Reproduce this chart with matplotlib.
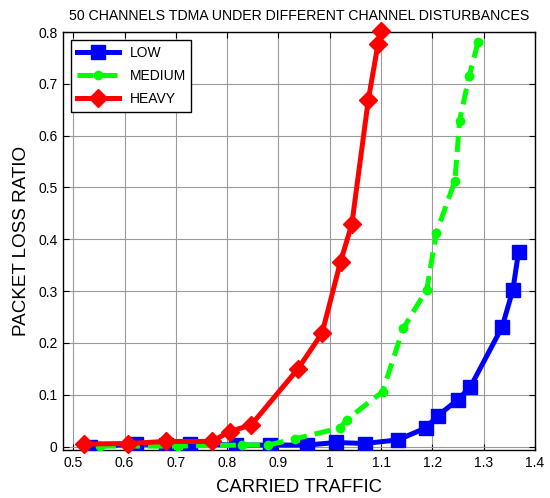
import matplotlib.pyplot as plt

plt.rcParams['font.family'] = ['Liberation Sans', 'DejaVu Sans']

# carried traffic / packet loss ratio for each disturbance level
low_x = [0.533, 0.623, 0.681, 0.727, 0.818, 0.883, 0.955, 1.013, 1.068,
         1.133, 1.187, 1.211, 1.249, 1.274, 1.336, 1.357, 1.368]
low_y = [0.000, 0.005, 0.003, 0.005, 0.003, 0.003, 0.003, 0.008, 0.006,
         0.013, 0.036, 0.060, 0.090, 0.115, 0.231, 0.303, 0.376]

medium_x = [0.552, 0.705, 0.828, 0.880, 0.932, 1.020, 1.033, 1.103, 1.143,
            1.189, 1.208, 1.244, 1.253, 1.272, 1.289]
medium_y = [0.001, 0.001, 0.003, 0.003, 0.015, 0.036, 0.052, 0.106, 0.228,
            0.303, 0.413, 0.513, 0.629, 0.716, 0.780]

heavy_x = [0.521, 0.607, 0.681, 0.770, 0.805, 0.847, 0.938, 0.985, 1.021,
           1.043, 1.075, 1.094, 1.099]
heavy_y = [0.005, 0.006, 0.010, 0.010, 0.029, 0.042, 0.150, 0.219, 0.357,
           0.429, 0.668, 0.777, 0.802]

x_ticks = [0.5, 0.6, 0.7, 0.8, 0.9, 1.0, 1.1, 1.2, 1.3, 1.4]
x_tick_labels = ['0.5', '0.6', '0.7', '0.8', '0.9', '1', '1.1', '1.2', '1.3', '1.4']
y_ticks = [0, 0.1, 0.2, 0.3, 0.4, 0.5, 0.6, 0.7, 0.8]
y_tick_labels = ['0', '0.1', '0.2', '0.3', '0.4', '0.5', '0.6', '0.7', '0.8']

fig = plt.figure(figsize=(5.5, 4.98), dpi=100)
ax = fig.add_axes([0.1145, 0.0964, 0.8582, 0.8393])

ax.plot(low_x, low_y, '-s', color='#0000ff', lw=3.6, ms=10,
        label='LOW', zorder=3)
ax.plot(medium_x, medium_y, '--o', color='#00ff00', lw=3.6, ms=6,
        dashes=(3.2, 1.6), label='MEDIUM', zorder=4)
ax.plot(heavy_x, heavy_y, '-D', color='#ff0000', lw=3.6, ms=9,
        label='HEAVY', zorder=5, clip_on=False)

ax.set_xlim(0.48, 1.4)
ax.set_ylim(-0.0065, 0.8)
ax.set_xticks(x_ticks)
ax.set_xticklabels(x_tick_labels)
ax.set_yticks(y_ticks)
ax.set_yticklabels(y_tick_labels)
ax.tick_params(direction='in', top=True, right=True, labelsize=10,
               length=4, width=0.8, pad=4)
ax.grid(True, color='#9a9a9a', lw=0.8)
for s in ax.spines.values():
    s.set_linewidth(1.0)

ax.set_title('50 CHANNELS TDMA UNDER DIFFERENT CHANNEL DISTURBANCES',
             fontsize=10.2, pad=9)
ax.set_xlabel('CARRIED TRAFFIC', fontsize=13.3, labelpad=7)
ax.set_ylabel('PACKET LOSS RATIO', fontsize=13.6, labelpad=6)

leg = ax.legend(loc='upper left', fontsize=10, handlelength=3.0,
                fancybox=False, framealpha=1, edgecolor='black',
                borderaxespad=0.6, labelspacing=0.65)
leg.get_frame().set_linewidth(1.0)

fig.savefig('out.png', dpi=100)
